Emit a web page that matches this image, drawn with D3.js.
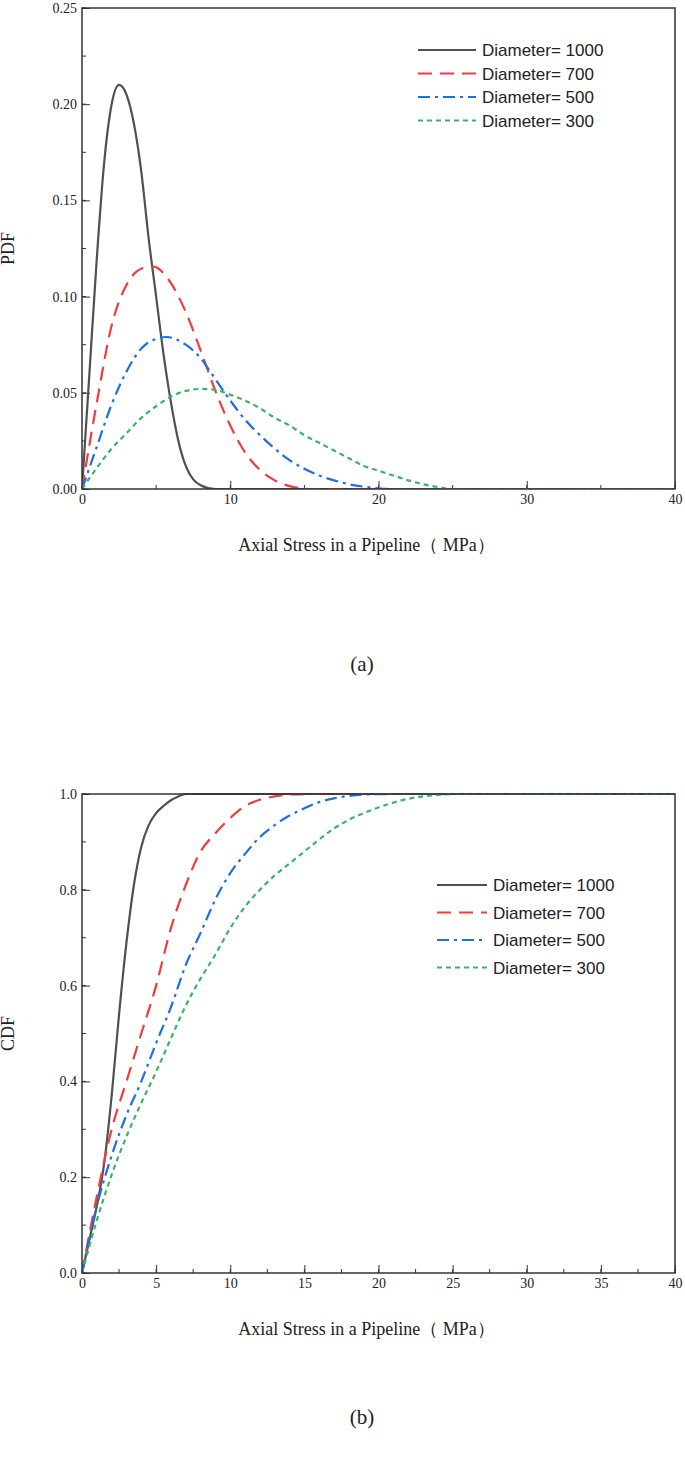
<!DOCTYPE html>
<html><head><meta charset="utf-8">
<script src="https://cdn.jsdelivr.net/npm/d3@7"></script>
<style>body{margin:0;background:#fff}</style></head>
<body><svg id="c" width="685" height="1463"></svg>
<script>
const seriesNames = ["Diameter= 1000","Diameter= 700","Diameter= 500","Diameter= 300"];
const colors = ["#505050","#f03c3c","#1e6ee6","#3cb464"];
const dashes = [null,"14,8","12,5,3,5","5,4"];
const pdf1000 = [[0,0],[0.5,0.06],[1,0.12],[1.5,0.17],[2,0.2],[2.5,0.21],[3,0.205],[3.5,0.19],[4,0.165],[4.5,0.13],[5,0.1],[5.5,0.07],[6,0.045],[6.5,0.025],[7,0.012],[7.5,0.005],[8,0.002],[9,0],[40,0]];
const pdf700 = [[0,0],[1,0.045],[2,0.085],[3,0.106],[4,0.1145],[4.8,0.1156],[6,0.107],[7,0.092],[8,0.072],[9,0.051],[10,0.033],[11,0.019],[12,0.01],[13,0.0045],[14,0.0015],[15.5,0],[40,0]];
const pdf500 = [[0,0],[1,0.022],[2,0.044],[3,0.061],[4,0.073],[5,0.078],[5.7,0.079],[7,0.075],[8,0.068],[9,0.057],[10,0.046],[11,0.036],[12,0.028],[13,0.021],[14,0.015],[15,0.0105],[16,0.007],[17,0.0045],[18,0.0025],[19,0.0012],[20,0.0004],[21,0],[40,0]];
const pdf300 = [[0,0],[1,0.011],[2,0.021],[3,0.029],[4,0.037],[5,0.043],[6,0.048],[7,0.051],[8,0.052],[9,0.0515],[10,0.049],[11,0.046],[12,0.042],[13,0.037],[14,0.033],[15,0.028],[16,0.024],[17,0.02],[18,0.016],[19,0.012],[20,0.0095],[21,0.007],[22,0.0045],[23,0.0025],[24,0.001],[25,0],[40,0]];
const cdf1000 = [[0,0],[0.5,0.07],[1,0.14],[1.5,0.23],[2,0.37],[2.5,0.54],[3,0.69],[3.5,0.81],[4,0.89],[4.5,0.935],[5,0.96],[5.5,0.975],[6,0.987],[6.5,0.995],[7,1],[40,1]];
const cdf700 = [[0,0],[1,0.16],[2,0.3],[3,0.4],[4,0.5],[5,0.6],[6,0.72],[7,0.81],[8,0.88],[9,0.918],[10,0.95],[11,0.975],[12,0.988],[13,0.995],[14,0.999],[15.5,1],[40,1]];
const cdf500 = [[0,0],[1,0.14],[2,0.245],[3,0.33],[4,0.4],[5,0.48],[6,0.555],[7,0.643],[8,0.71],[9,0.78],[10,0.835],[11,0.875],[12,0.91],[13,0.935],[14,0.955],[15,0.97],[16,0.983],[17,0.991],[18,0.996],[19,0.999],[21,1],[40,1]];
const cdf300 = [[0,0],[1,0.11],[2,0.205],[3,0.285],[4,0.355],[5,0.42],[6,0.49],[7,0.558],[8,0.615],[9,0.665],[10,0.72],[11,0.765],[12,0.8],[13,0.83],[14,0.855],[15,0.88],[16,0.905],[17,0.928],[18,0.946],[19,0.96],[20,0.972],[21,0.982],[22,0.99],[23,0.995],[24,0.998],[25,1],[40,1]];
const pdfYTicks = [0,0.05,0.10,0.15,0.20,0.25];
const cdfYTicks = [0,0.2,0.4,0.6,0.8,1.0];
const pdfXTicks = [0,10,20,30,40];
const cdfXTicks = [0,5,10,15,20,25,30,35,40];

const svg = d3.select("#c");
const serif = "'Liberation Serif','Times New Roman',serif";
const sans = "'Liberation Sans',Arial,sans-serif";

function panel(o){
  const g = svg.append("g");
  const x = d3.scaleLinear().domain([0,40]).range([o.x0,o.x1]);
  const y = d3.scaleLinear().domain([0,o.ymax]).range([o.y1,o.y0]);
  const minorX = d3.range(0,40.001,o.xStep/2), minorY = d3.range(0,o.ymax+1e-9,o.yStep/2);
  g.selectAll(".mx").data(minorX).join("line").attr("x1",d=>x(d)).attr("x2",d=>x(d)).attr("y1",o.y1).attr("y2",o.y1-4).attr("stroke","#333");
  g.selectAll(".my").data(minorY).join("line").attr("y1",d=>y(d)).attr("y2",d=>y(d)).attr("x1",o.x0).attr("x2",o.x0+4).attr("stroke","#333");
  const ax = g.append("g").attr("transform",`translate(0,${o.y1})`).call(d3.axisBottom(x).tickValues(o.xt).tickSizeInner(-8).tickSizeOuter(0).tickPadding(5).tickFormat(d3.format("d")));
  const ay = g.append("g").attr("transform",`translate(${o.x0},0)`).call(d3.axisLeft(y).tickValues(o.yt).tickSizeInner(-8).tickSizeOuter(0).tickPadding(5).tickFormat(d3.format(o.yf)));
  [ax,ay].forEach(a=>{a.select(".domain").remove();a.selectAll("text").attr("font-family",serif).attr("font-size",14).attr("fill","#222");a.selectAll("line").attr("stroke","#333");});
  const line = d3.line().x(d=>x(d[0])).y(d=>y(d[1])).curve(d3.curveMonotoneX);
  const clip = "clip"+o.id;
  svg.append("clipPath").attr("id",clip).append("rect").attr("x",o.x0).attr("y",o.y0-2).attr("width",o.x1-o.x0).attr("height",o.y1-o.y0+2);
  o.data.forEach((d,i)=>{
    g.append("path").attr("d",line(d)).attr("fill","none").attr("stroke",colors[i]).attr("stroke-width",2.2).attr("stroke-dasharray",dashes[i]).attr("clip-path",`url(#${clip})`);
  });
  g.append("rect").attr("x",o.x0).attr("y",o.y0).attr("width",o.x1-o.x0).attr("height",o.y1-o.y0).attr("fill","none").attr("stroke","#333").attr("stroke-width",1.5);
  seriesNames.forEach((n,i)=>{
    const ly = o.ly + i*o.lgap;
    g.append("line").attr("x1",o.lx).attr("x2",o.lx+o.llen).attr("y1",ly).attr("y2",ly).attr("stroke",colors[i]).attr("stroke-width",2.2).attr("stroke-dasharray",dashes[i]);
    g.append("text").attr("x",o.lx+o.llen+6).attr("y",ly+6).text(n).attr("font-family",sans).attr("font-size",17).attr("fill","#222");
  });
  g.append("text").attr("x",(o.x0+o.x1)/2-12).attr("y",o.y1+62).attr("text-anchor","middle").attr("font-family",serif).attr("font-size",18).attr("fill","#222").text("Axial Stress in a Pipeline（ MPa）");
  g.append("text").attr("transform",`translate(${o.x0-68},${(o.y0+o.y1)/2}) rotate(-90)`).attr("text-anchor","middle").attr("font-family",serif).attr("font-size",18).attr("fill","#222").text(o.ylab);
  g.append("text").attr("x",362).attr("y",o.cap).attr("text-anchor","middle").attr("font-family",serif).attr("font-size",21).attr("fill","#222").text(o.capt);
}
panel({id:"a",x0:82,x1:675,y0:8,y1:489,ymax:0.25,xStep:10,yStep:0.05,xt:pdfXTicks,yt:pdfYTicks,yf:".2f",data:[pdf1000,pdf700,pdf500,pdf300],lx:418,llen:58,ly:50,lgap:23.5,ylab:"PDF",cap:671,capt:"(a)"});
panel({id:"b",x0:82,x1:675,y0:794,y1:1273,ymax:1.0,xStep:5,yStep:0.2,xt:cdfXTicks,yt:cdfYTicks,yf:".1f",data:[cdf1000,cdf700,cdf500,cdf300],lx:437,llen:50,ly:885,lgap:27.5,ylab:"CDF",cap:1424,capt:"(b)"});
</script></body></html>
